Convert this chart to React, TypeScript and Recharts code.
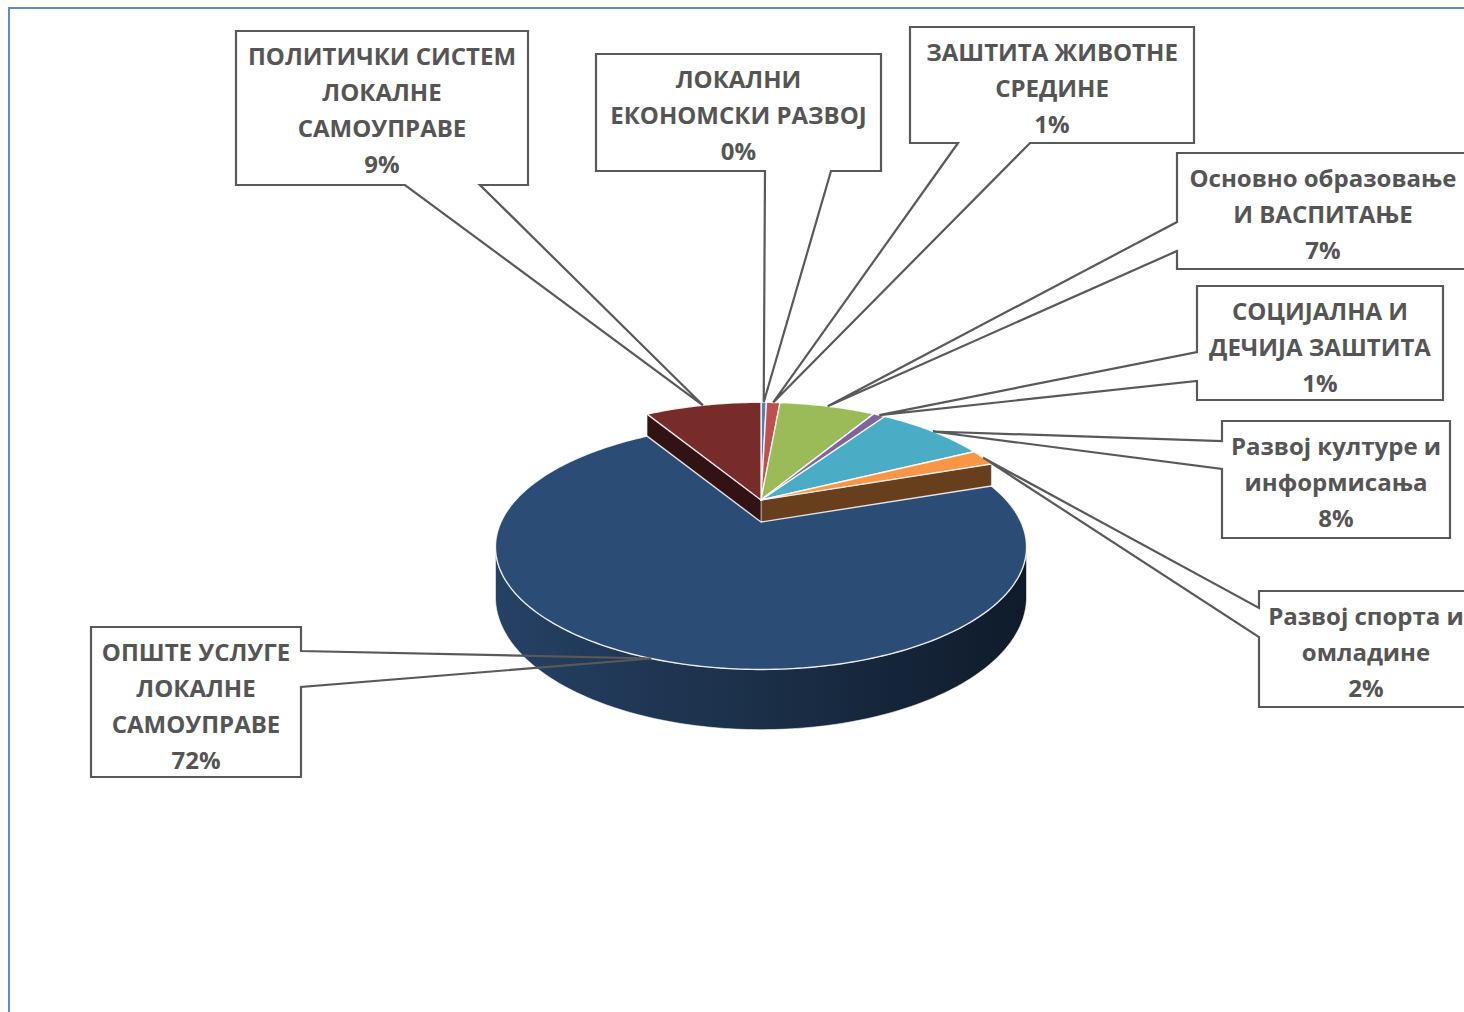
import React from 'react'
import { PieChart, Pie, Cell } from 'recharts'

const categories = [
  'ЛОКАЛНИ ЕКОНОМСКИ РАЗВОЈ',
  'ЗАШТИТА ЖИВОТНЕ СРЕДИНЕ',
  'Основно образовање И ВАСПИТАЊЕ',
  'СОЦИЈАЛНА И ДЕЧИЈА ЗАШТИТА',
  'Развој културе и информисања',
  'Развој спорта и омладине',
  'ОПШТЕ УСЛУГЕ ЛОКАЛНЕ САМОУПРАВЕ',
  'ПОЛИТИЧКИ СИСТЕМ ЛОКАЛНЕ САМОУПРАВЕ',
]
const shares = [0.4, 1.0, 7.1, 0.9, 8.2, 2.1, 71.7, 8.6]
const labelLines = [
  ['ЛОКАЛНИ', 'ЕКОНОМСКИ РАЗВОЈ'],
  ['ЗАШТИТА ЖИВОТНЕ', 'СРЕДИНЕ'],
  ['Основно образовање', 'И ВАСПИТАЊЕ'],
  ['СОЦИЈАЛНА И', 'ДЕЧИЈА ЗАШТИТА'],
  ['Развој културе и', 'информисања'],
  ['Развој спорта и', 'омладине'],
  ['ОПШТЕ УСЛУГЕ', 'ЛОКАЛНЕ', 'САМОУПРАВЕ'],
  ['ПОЛИТИЧКИ СИСТЕМ', 'ЛОКАЛНЕ', 'САМОУПРАВЕ'],
]
const colors = ['#4F81BD', '#C0504D', '#9BBB59', '#8064A2', '#4BACC6', '#F79646', '#2B4C74', '#772C2A']

const data = categories.map((name, i) => ({ name, value: shares[i] }))

// fake 3d: tilt + perspective applied to the angles recharts computes
const CX = 761
const CY = 500
const R = 260
const TILT = 0.452
const PERSP = 0.203
const DEPTH = 48
const explodeY = [0, 0, 0, 0, 0, 0, 22, 0]
const SIL = (Math.acos(-PERSP) * 180) / Math.PI

// callout boxes (page px), wedge leaves the box on `side` between a and b
const boxes = [
  { x: 596, y: 54, w: 285, h: 117, side: 'bottom', a: 765, b: 831 },
  { x: 910, y: 27, w: 284, h: 116, side: 'bottom', a: 958, b: 1030 },
  { x: 1177, y: 153, w: 292, h: 116, side: 'left', a: 222, b: 251 },
  { x: 1197, y: 286, w: 246, h: 114, side: 'left', a: 352, b: 381 },
  { x: 1222, y: 421, w: 228, h: 117, side: 'left', a: 441, b: 469 },
  { x: 1259, y: 591, w: 214, h: 116, side: 'left', a: 608, b: 637 },
  { x: 91, y: 627, w: 210, h: 150, side: 'right', a: 651, b: 687 },
  { x: 236, y: 31, w: 292, h: 154, side: 'bottom', a: 405, b: 480 },
]

const toPhi = (a: number) => 90 - a

function project(phi: number, r: number, cx: number, cy: number, rad: number, dy: number) {
  const t = (phi * Math.PI) / 180
  const u = r * Math.sin(t)
  const v = -r * Math.cos(t)
  const w = 1 - PERSP * v
  return { x: cx + (rad * u) / w, y: cy + (rad * TILT * v) / w + dy, d: DEPTH / w }
}

function shade(hex: string, f: number) {
  const n = parseInt(hex.slice(1), 16)
  const c = [(n >> 16) & 255, (n >> 8) & 255, n & 255].map((v) => Math.max(0, Math.min(255, Math.round(v * f))))
  return `rgb(${c[0]},${c[1]},${c[2]})`
}

function arcPts(a: number, b: number) {
  const steps = Math.max(1, Math.ceil(Math.abs(b - a)))
  const out: number[] = []
  for (let k = 0; k <= steps; k++) out.push(a + ((b - a) * k) / steps)
  return out
}

function WallShape(props: any) {
  const { cx, cy, outerRadius, startAngle, endAngle, fill } = props
  const name = props.name ?? props.payload?.name
  const i = categories.indexOf(name)
  const dy = explodeY[i] || 0
  const ps = toPhi(startAngle)
  const pe = toPhi(endAngle)
  if (pe - ps <= 0) return <g />
  const c = project(0, 0, cx, cy, outerRadius, dy)
  const parts: React.ReactNode[] = []
  const radial = (phi: number, key: string) => {
    const p = project(phi, 1, cx, cy, outerRadius, dy)
    const d = `M${c.x},${c.y}L${p.x},${p.y}L${p.x},${p.y + p.d}L${c.x},${c.y + c.d}Z`
    parts.push(<path key={key} d={d} fill={shade(fill, 0.42)} stroke="#fff" strokeOpacity={0.5} strokeWidth={1} />)
  }
  if (Math.sin((ps * Math.PI) / 180) < 0) radial(ps, 's')
  if (Math.sin((pe * Math.PI) / 180) > 0) radial(pe, 'e')
  const a = Math.max(ps, SIL)
  const b = Math.min(pe, 360 - SIL)
  if (b > a) {
    const top = arcPts(a, b).map((p) => project(p, 1, cx, cy, outerRadius, dy))
    const d =
      'M' +
      top.map((p) => `${p.x},${p.y}`).join('L') +
      'L' +
      top
        .slice()
        .reverse()
        .map((p) => `${p.x},${p.y + p.d}`)
        .join('L') +
      'Z'
    const gid = `wallgrad${i}`
    parts.push(
      <defs key="g">
        <linearGradient id={gid} x1="0" y1="0" x2="1" y2="0">
          <stop offset="0" stopColor={shade(fill, 0.86)} />
          <stop offset="0.5" stopColor={shade(fill, 0.62)} />
          <stop offset="1" stopColor={shade(fill, 0.36)} />
        </linearGradient>
      </defs>,
    )
    parts.push(<path key="o" d={d} fill={`url(#${gid})`} stroke="#fff" strokeOpacity={0.6} strokeWidth={1} />)
  }
  return <g>{parts}</g>
}

function TopShape(props: any) {
  const { cx, cy, outerRadius, startAngle, endAngle, fill } = props
  const name = props.name ?? props.payload?.name
  const i = categories.indexOf(name)
  const dy = explodeY[i] || 0
  const ps = toPhi(startAngle)
  const pe = toPhi(endAngle)
  if (pe - ps <= 0) return <g />
  const c = project(0, 0, cx, cy, outerRadius, dy)
  const pts = arcPts(ps, pe).map((p) => project(p, 1, cx, cy, outerRadius, dy))
  const d = `M${c.x},${c.y}L` + pts.map((p) => `${p.x},${p.y}`).join('L') + 'Z'
  return <path d={d} fill={fill} stroke="#fff" strokeOpacity={0.85} strokeWidth={1.4} strokeLinejoin="round" />
}

function renderLabel(props: any) {
  const { cx, cy, outerRadius, midAngle, percent } = props
  const name = props.name ?? props.payload?.name
  const i = categories.indexOf(name)
  const bx = boxes[i]
  if (!bx) return null
  const an = project(toPhi(midAngle), 1, cx, cy, outerRadius, explodeY[i] || 0)
  const { x, y, w, h, a, b } = bx
  let d = ''
  if (bx.side === 'bottom') {
    d = `M${a},${y + h}L${x},${y + h}L${x},${y}L${x + w},${y}L${x + w},${y + h}L${b},${y + h}L${an.x},${an.y}Z`
  } else if (bx.side === 'left') {
    d = `M${x},${a}L${x},${y}L${x + w},${y}L${x + w},${y + h}L${x},${y + h}L${x},${b}L${an.x},${an.y}Z`
  } else {
    d = `M${x + w},${a}L${x + w},${y}L${x},${y}L${x},${y + h}L${x + w},${y + h}L${x + w},${b}L${an.x},${an.y}Z`
  }
  const lines = [...labelLines[i], `${Math.round(percent * 100)}%`]
  return (
    <g key={`lbl-${i}`}>
      <path d={d} fill="none" stroke="#595959" strokeWidth={2.2} strokeLinejoin="miter" />
      {lines.map((t, k) => (
        <text
          key={k}
          x={x + w / 2}
          y={y + 24 + k * 36}
          textAnchor="middle"
          dominantBaseline="central"
          fontFamily="'Open Sans', sans-serif"
          fontWeight={700}
          fontSize={24}
          fill="#555555"
        >
          {t}
        </text>
      ))}
    </g>
  )
}

export default function App() {
  return (
    <div style={{ position: 'absolute', left: 0, top: 0, width: 1464, height: 1012, overflow: 'hidden', background: '#fff' }}>
      <div
        style={{
          position: 'absolute',
          left: 8,
          top: 7,
          width: 1480,
          height: 1030,
          borderLeft: '2.5px solid #5B8BC8',
          borderTop: '2.5px solid #5B8BC8',
        }}
      />
      <PieChart width={1464} height={1012} margin={{ top: 0, right: 0, bottom: 0, left: 0 }}>
        <Pie
          data={data}
          dataKey="value"
          nameKey="name"
          cx={CX}
          cy={CY}
          outerRadius={R}
          startAngle={90}
          endAngle={-270}
          stroke="none"
          isAnimationActive={false}
          shape={WallShape}
          activeShape={WallShape}
          inactiveShape={WallShape}
          label={false}
          labelLine={false}
        >
          {data.map((d, i) => (
            <Cell key={d.name} fill={colors[i]} />
          ))}
        </Pie>
        <Pie
          data={data}
          dataKey="value"
          nameKey="name"
          cx={CX}
          cy={CY}
          outerRadius={R}
          startAngle={90}
          endAngle={-270}
          stroke="none"
          isAnimationActive={false}
          shape={TopShape}
          activeShape={TopShape}
          inactiveShape={TopShape}
          label={renderLabel}
          labelLine={false}
        >
          {data.map((d, i) => (
            <Cell key={d.name} fill={colors[i]} />
          ))}
        </Pie>
      </PieChart>
    </div>
  )
}
